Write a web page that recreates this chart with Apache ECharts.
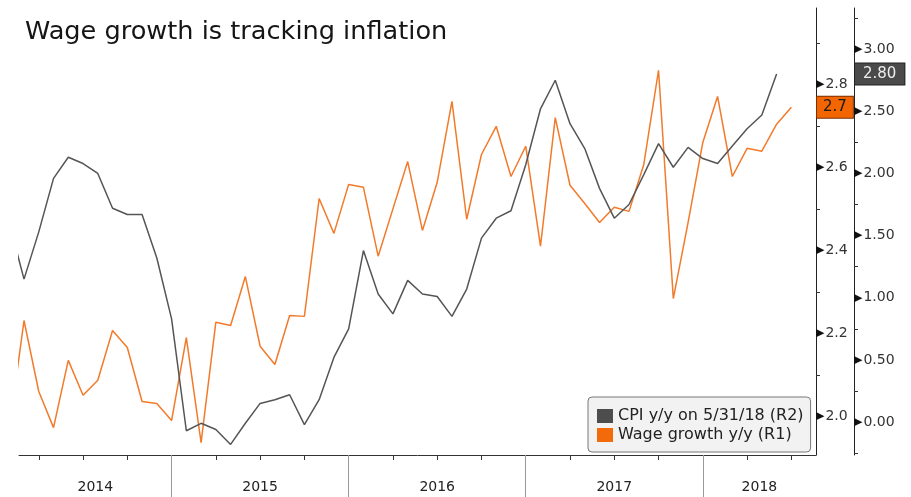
<!DOCTYPE html>
<html>
<head>
<meta charset="utf-8">
<script src="https://cdn.jsdelivr.net/npm/echarts@6/dist/echarts.min.js"></script>
<style>
html,body{margin:0;padding:0;background:#fff;}
#chart{width:911px;height:497px;}
</style>
</head>
<body>
<div id="chart"></div>
<script>
// ---- data ----
const titleText = 'Wage growth is tracking inflation';
const years = [2014, 2015, 2016, 2017, 2018];
const cpiName = 'CPI y/y on 5/31/18 (R2)';
const wageName = 'Wage growth y/y (R1)';
// CPI y/y, monthly from Jan 2014
const cpi2014 = [1.60, 1.15, 1.53, 1.96, 2.13, 2.08, 2.00, 1.72, 1.67, 1.67, 1.32, 0.83];
const cpi2015 = [-0.07, -0.01, -0.06, -0.18, -0.01, 0.15, 0.18, 0.22, -0.02, 0.18, 0.52, 0.75];
const cpi2016 = [1.38, 1.03, 0.87, 1.14, 1.03, 1.01, 0.85, 1.07, 1.48, 1.64, 1.70, 2.07];
const cpi2017 = [2.52, 2.75, 2.40, 2.20, 1.88, 1.64, 1.75, 1.99, 2.24, 2.05, 2.21, 2.12];
const cpi2018 = [2.08, 2.22, 2.36, 2.47, 2.80];
// Wage growth y/y, monthly from Jan 2014
const wage2014 = [1.97, 2.231, 2.060, 1.973, 2.135, 2.051, 2.087, 2.207, 2.166, 2.036, 2.031, 1.990];
const wage2015 = [2.190, 1.937, 2.227, 2.219, 2.337, 2.169, 2.125, 2.243, 2.241, 2.525, 2.441, 2.559];
const wage2016 = [2.552, 2.386, 2.500, 2.614, 2.448, 2.564, 2.759, 2.475, 2.631, 2.699, 2.578, 2.651];
const wage2017 = [2.410, 2.720, 2.557, 2.513, 2.467, 2.504, 2.494, 2.607, 2.834, 2.284, 2.467, 2.660];
const wage2018 = [2.771, 2.578, 2.646, 2.639, 2.704, 2.745];
// axis tick labels
const r1Labels = [2.0, 2.2, 2.4, 2.6, 2.8];
const r1Minor = [2.1, 2.3, 2.5, 2.7, 2.9];
const r2Labels = [0.0, 0.5, 1.0, 1.5, 2.0, 2.5, 3.0];
const r2Minor = [-0.25, 0.25, 0.75, 1.25, 1.75, 2.25, 2.75, 3.25];

// ---- build ----
const cpi = [].concat(cpi2014, cpi2015, cpi2016, cpi2017, cpi2018);
const wage = [].concat(wage2014, wage2015, wage2016, wage2017, wage2018);
// x = months since start of 2014 (month-end points)
const toPairs = arr => arr.map((v, i) => [i + 1, v]);
const cpiData = toPairs(cpi);
const wageData = toPairs(wage);

const xMin = 1.66, xMax = 55.67;
const quarterTicks = [];
for (let q = 3; q <= 54; q += 3) if (q % 12 !== 0) quarterTicks.push(q);
const yearBounds = [];
for (let k = 1; k < years.length; k++) yearBounds.push(12 * k);
const yearCenters = years.map((y, k) => {
  const a = Math.max(xMin, 12 * k), b = Math.min(xMax, 12 * (k + 1));
  return (a + b) / 2;
});

const font = 'DejaVu Sans';
const tri = {fontSize: 11, color: '#111', fontFamily: font, padding: [0, 1, 0, 0]};
const val = {fontSize: 14, color: '#333', fontFamily: font};

const chart = echarts.init(document.getElementById('chart'));
chart.setOption({
  animation: false,
  backgroundColor: '#fff',
  title: {
    text: titleText, left: 20, top: 14,
    textStyle: {fontFamily: font, fontSize: 25.6, fontWeight: 'normal', color: '#151515'}
  },
  legend: {
    orient: 'vertical', left: 588, top: 397,
    padding: [10, 7, 8, 9],
    itemWidth: 16, itemHeight: 14, itemGap: 1,
    icon: 'rect',
    backgroundColor: '#f2f2f2', borderColor: '#777', borderWidth: 1, borderRadius: 4,
    textStyle: {fontFamily: font, fontSize: 16, color: '#222', lineHeight: 18},
    data: [
      {name: cpiName, itemStyle: {color: '#4d4d4d'}},
      {name: wageName, itemStyle: {color: '#f36a0a'}}
    ]
  },
  grid: {left: 19, right: 95, top: 8, bottom: 42, containLabel: false},
  xAxis: [
    {
      type: 'value', min: xMin, max: xMax, position: 'bottom',
      splitLine: {show: false},
      axisLine: {show: true, onZero: false, lineStyle: {color: '#333', width: 1}},
      axisTick: {show: true, customValues: quarterTicks, length: 5, lineStyle: {color: '#333'}},
      axisLabel: {
        customValues: yearCenters, margin: 25,
        formatter: v => String(2014 + Math.floor(v / 12)),
        fontFamily: font, fontSize: 14, color: '#222'
      }
    },
    {
      type: 'value', min: xMin, max: xMax, position: 'bottom',
      splitLine: {show: false},
      axisLine: {show: false, onZero: false},
      axisTick: {show: true, customValues: yearBounds, length: 42, lineStyle: {color: '#999'}},
      axisLabel: {show: false}
    }
  ],
  yAxis: [
    {
      type: 'value', position: 'right', offset: 0, min: 1.907, max: 2.984,
      splitLine: {show: false},
      axisLine: {show: true, onZero: false, lineStyle: {color: '#222'}},
      axisTick: {show: true, customValues: r1Minor, length: 4, lineStyle: {color: '#333'}},
      axisLabel: {
        customValues: r1Labels, margin: 0,
        formatter: v => '{t|▶}{v|' + v.toFixed(1) + '}',
        rich: {t: tri, v: val}
      },
      axisPointer: {
        show: true, status: 'show', value: wage[wage.length - 1], triggerTooltip: false,
        lineStyle: {opacity: 0},
        label: {
          show: true, margin: 1, formatter: p => Number(p.value).toFixed(1),
          backgroundColor: '#f26500', color: '#1a1a1a', borderColor: '#7a3000', borderWidth: 1,
          fontFamily: font, fontSize: 15, padding: [3, 6, 3, 6], borderRadius: 0
        }
      }
    },
    {
      type: 'value', position: 'right', offset: 38, min: -0.265, max: 3.331,
      splitLine: {show: false},
      axisLine: {show: true, onZero: false, lineStyle: {color: '#222'}},
      axisTick: {show: true, customValues: r2Minor, length: 4, lineStyle: {color: '#333'}},
      axisLabel: {
        customValues: r2Labels, margin: 0,
        formatter: v => '{t|▶}{v|' + v.toFixed(2) + '}',
        rich: {t: tri, v: val}
      },
      axisPointer: {
        show: true, status: 'show', value: cpi[cpi.length - 1], triggerTooltip: false,
        lineStyle: {opacity: 0},
        label: {
          show: true, margin: 1, formatter: p => Number(p.value).toFixed(2),
          backgroundColor: '#4a4a4a', color: '#eee', borderColor: '#222', borderWidth: 1,
          fontFamily: font, fontSize: 15, padding: [3, 8, 3, 8], borderRadius: 0
        }
      }
    }
  ],
  series: [
    {
      name: cpiName, type: 'line', xAxisIndex: 0, yAxisIndex: 1, data: cpiData,
      showSymbol: false, symbol: 'none', clip: true,
      lineStyle: {color: '#555555', width: 1.5}, itemStyle: {color: '#4d4d4d'}, z: 3
    },
    {
      name: wageName, type: 'line', xAxisIndex: 0, yAxisIndex: 0, data: wageData,
      showSymbol: false, symbol: 'none', clip: true,
      lineStyle: {color: '#f27a2a', width: 1.5}, itemStyle: {color: '#f36a0a'}, z: 2
    }
  ]
});
</script>
</body>
</html>
